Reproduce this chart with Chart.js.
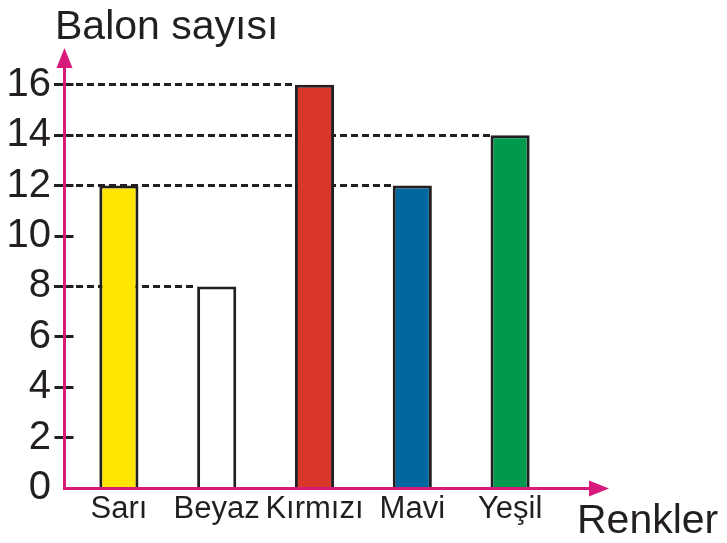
<!DOCTYPE html>
<html>
<head>
<meta charset="utf-8">
<script src="https://cdn.jsdelivr.net/npm/chart.js@4/dist/chart.umd.min.js"></script>
<style>
  html, body { margin: 0; padding: 0; background: #fff; }
  #wrap { width: 727px; height: 543px; position: relative; }
</style>
</head>
<body>
<div id="wrap"><canvas id="balonChart"></canvas></div>
<script>
// Data
const categories = ['Sarı', 'Beyaz', 'Kırmızı', 'Mavi', 'Yeşil'];
const balloonCounts = [12, 8, 16, 12, 14];
const barColors = ['#FFE600', '#FFFFFF', '#D9372A', '#00689E', '#009A4E'];
const yTicks = [0, 2, 4, 6, 8, 10, 12, 14, 16];
const yTitle = 'Balon sayısı';
const xTitle = 'Renkler';

const INK = '#231F20';
const AXIS = '#D6197A';
const FONT = '"Liberation Sans", Arial, sans-serif';

// crisp 3px lines
const snap = v => Math.round(v - 0.5) + 0.5;

/**
 * Draws the arrowed axes, tick marks, dashed guide lines and titles
 */
const axesPlugin = {
    id: 'axesPlugin',
    beforeDatasetsDraw(chart) {
        const { ctx, chartArea, scales } = chart;
        const meta = chart.getDatasetMeta(0);
        const tickLeft = chartArea.left - 16;

        // Dashed guide lines from the y axis to each bar top
        ctx.save();
        ctx.strokeStyle = INK;
        ctx.lineWidth = 3;
        ctx.setLineDash([7, 4]);
        meta.data.forEach((bar, i) => {
            const y = snap(scales.y.getPixelForValue(balloonCounts[i]));
            const left = bar.x - bar.width / 2;
            ctx.beginPath();
            ctx.moveTo(tickLeft, y);
            ctx.lineTo(left, y);
            ctx.stroke();
        });
        ctx.restore();
    },
    afterDatasetsDraw(chart) {
        const { ctx, chartArea, scales } = chart;
        const axisX = snap(chartArea.left - 6);
        const axisY = snap(scales.y.getPixelForValue(0));

        // Tick marks
        ctx.save();
        ctx.strokeStyle = INK;
        ctx.lineWidth = 3;
        yTicks.forEach(v => {
            if (v === 0) return;
            const y = snap(scales.y.getPixelForValue(v));
            ctx.beginPath();
            ctx.moveTo(axisX - 10, y);
            ctx.lineTo(axisX + 9, y);
            ctx.stroke();
        });

        // Pink axes with arrows
        const yTop = chartArea.top + 1;
        const xEnd = chartArea.right + 50;
        ctx.strokeStyle = AXIS;
        ctx.fillStyle = AXIS;
        ctx.lineWidth = 3;
        ctx.beginPath();
        ctx.moveTo(axisX, axisY + 1.5);
        ctx.lineTo(axisX, yTop + 12);
        ctx.moveTo(axisX - 1.5, axisY);
        ctx.lineTo(xEnd - 12, axisY);
        ctx.stroke();

        ctx.beginPath();
        ctx.moveTo(axisX, yTop);
        ctx.lineTo(axisX - 8, yTop + 20);
        ctx.lineTo(axisX + 8, yTop + 20);
        ctx.closePath();
        ctx.fill();

        ctx.beginPath();
        ctx.moveTo(xEnd, axisY);
        ctx.lineTo(xEnd - 20, axisY - 8);
        ctx.lineTo(xEnd - 20, axisY + 8);
        ctx.closePath();
        ctx.fill();

        // Axis titles
        ctx.fillStyle = INK;
        ctx.textBaseline = 'alphabetic';
        ctx.textAlign = 'left';
        ctx.font = '41px ' + FONT;
        ctx.fillText(yTitle, 55, 39);
        ctx.fillText(xTitle, 577, 533);
        ctx.restore();
    }
};

const ctx = document.getElementById('balonChart').getContext('2d');
new Chart(ctx, {
    type: 'bar',
    data: {
        labels: categories,
        datasets: [{
            data: balloonCounts,
            backgroundColor: barColors,
            borderColor: INK,
            borderWidth: 3,
            borderSkipped: 'bottom',
            categoryPercentage: 1,
            barPercentage: 0.4
        }]
    },
    options: {
        responsive: true,
        maintainAspectRatio: false,
        animation: false,
        layout: {
            padding: { top: 47, right: 168, bottom: 0, left: 0 }
        },
        plugins: {
            legend: { display: false },
            tooltip: { enabled: false }
        },
        scales: {
            y: {
                min: 0,
                max: 17.5,
                afterFit(scale) { scale.width = 70; },
                afterBuildTicks(scale) {
                    scale.ticks = yTicks.map(v => ({ value: v }));
                },
                grid: { display: false, drawTicks: false },
                border: { display: false },
                ticks: {
                    padding: 19,
                    color: INK,
                    font: { family: FONT, size: 40 }
                }
            },
            x: {
                afterFit(scale) { scale.height = 55; },
                grid: { display: false, drawTicks: false },
                border: { display: false },
                ticks: {
                    padding: 3,
                    color: INK,
                    maxRotation: 0,
                    autoSkip: false,
                    font: { family: FONT, size: 31 }
                }
            }
        }
    },
    plugins: [axesPlugin]
});
</script>
</body>
</html>
